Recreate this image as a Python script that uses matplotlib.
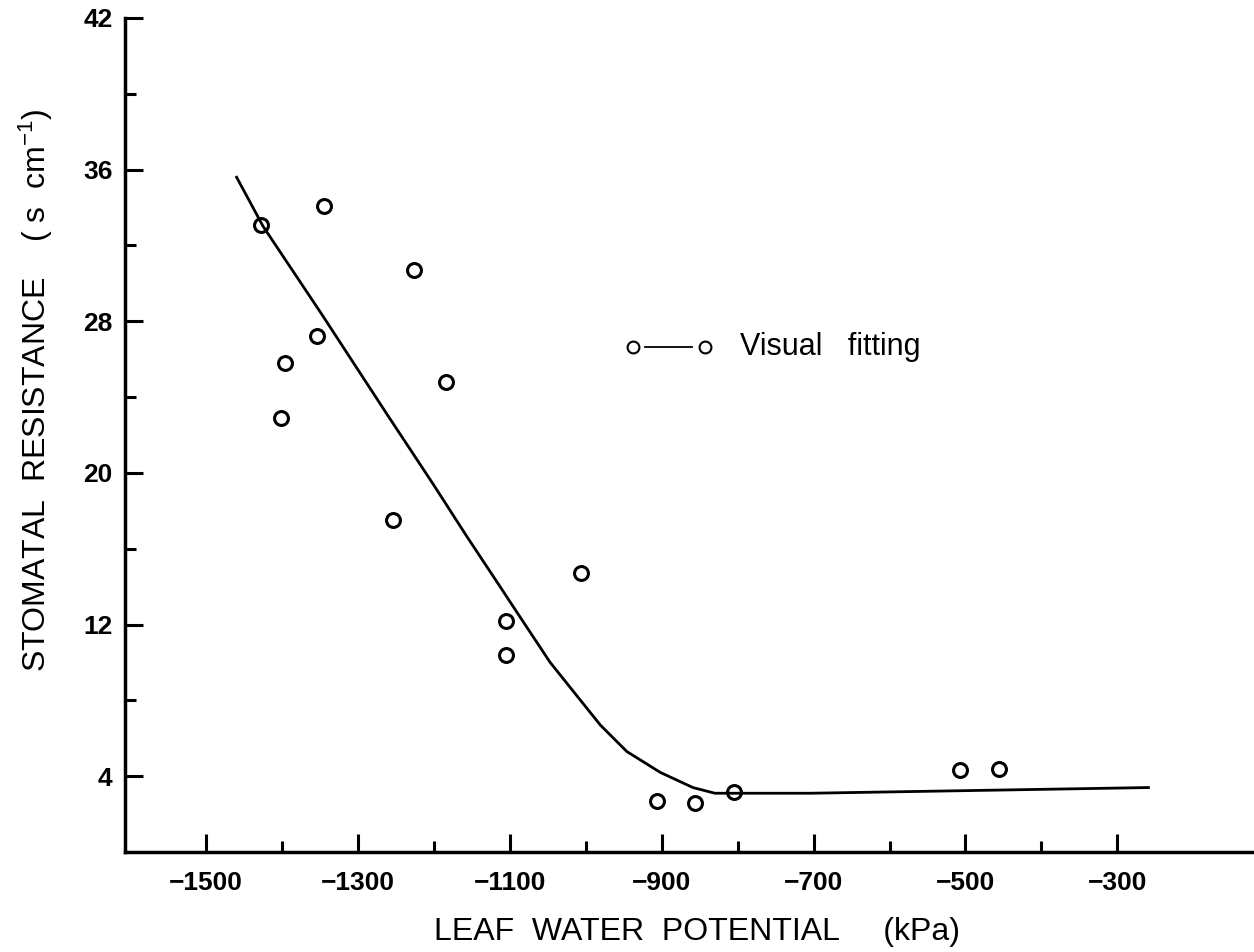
import matplotlib.pyplot as plt
import numpy as np

plt.rcParams['font.family'] = ['Liberation Sans', 'DejaVu Sans']
plt.rcParams['mathtext.default'] = 'regular'

# Измеренные точки (кПа, с/см)
psi_obs = [-1428, -1345, -1227, -1354, -1396, -1402, -1184, -1254,
           -1007, -1105, -1105, -906, -856, -805, -507, -456]
rs_obs = [33.1, 34.1, 30.7, 27.2, 25.8, 22.9, 24.8, 17.5,
          14.7, 12.2, 10.4, 2.7, 2.6, 3.15, 4.3, 4.4]

# Кривая, проведённая "на глаз"
psi_fit = [-1460, -1425, -1350, -1306, -1262, -1201, -1156, -1113,
           -1090, -1047, -981, -946, -902, -859, -830, -806, -704, -259]
rs_fit = [35.6, 33.0, 28.5, 25.8, 23.1, 19.4, 16.6, 14.0,
          12.6, 10.0, 6.7, 5.3, 4.2, 3.4, 3.1, 3.1, 3.1, 3.4]

x_ticks = [-1500, -1300, -1100, -900, -700, -500, -300]
x_minor = [-1400, -1200, -1000, -800, -600, -400]
y_ticks = [4, 12, 20, 28, 36, 44]
y_labels = ['4', '12', '20', '28', '36', '42']
y_minor = [8, 16, 24, 32, 40]

fig = plt.figure(figsize=(12.54, 9.52), dpi=100)
ax = fig.add_axes([125 / 1254, 1 - 852 / 952, 1129 / 1254, 834 / 952])

ax.plot(psi_fit, rs_fit, color='black', linewidth=2.0, solid_joinstyle='round')
ax.plot(psi_obs, rs_obs, linestyle='none', marker='o', markersize=10,
        markerfacecolor='none', markeredgecolor='black', markeredgewidth=2.2)

# Подпись кривой
ax.plot([-922, -860], [26.65, 26.65], color='black', linewidth=1.3)
ax.plot([-938, -843], [26.65, 26.65], linestyle='none', marker='o', markersize=8.5,
        markerfacecolor='none', markeredgecolor='black', markeredgewidth=1.5)
ax.text(-797, 26.65, 'Visual   fitting', fontsize=22, va='center', ha='left')

ax.set_xlim(-1607, -120)
ax.set_ylim(0, 44)

ax.spines['top'].set_visible(False)
ax.spines['right'].set_visible(False)
ax.spines['left'].set_linewidth(2.5)
ax.spines['bottom'].set_linewidth(2.5)

ax.set_xticks(x_ticks)
ax.set_xticks(x_minor, minor=True)
ax.set_yticks(y_ticks)
ax.set_yticklabels(y_labels)
ax.set_yticks(y_minor, minor=True)
ax.tick_params(which='major', direction='in', length=13, width=2.2, labelsize=19)
ax.tick_params(which='minor', direction='in', length=8, width=2.2)
ax.tick_params(axis='x', which='major', pad=14)
ax.tick_params(axis='y', which='major', pad=9)
for lab in ax.get_xticklabels() + ax.get_yticklabels():
    lab.set_fontweight('bold')

ax.set_xlabel('LEAF  WATER  POTENTIAL     (kPa)', fontsize=23, va='center')
ax.xaxis.set_label_coords((697 - 125) / 1129, (852 - 932) / 834)
ax.set_ylabel('STOMATAL  RESISTANCE    ( s  cm$^{-1}$)', fontsize=23, va='center')
ax.yaxis.set_label_coords((36 - 125) / 1129, (852 - 390) / 834)

plt.savefig('out.png', dpi=100)
plt.close(fig)
